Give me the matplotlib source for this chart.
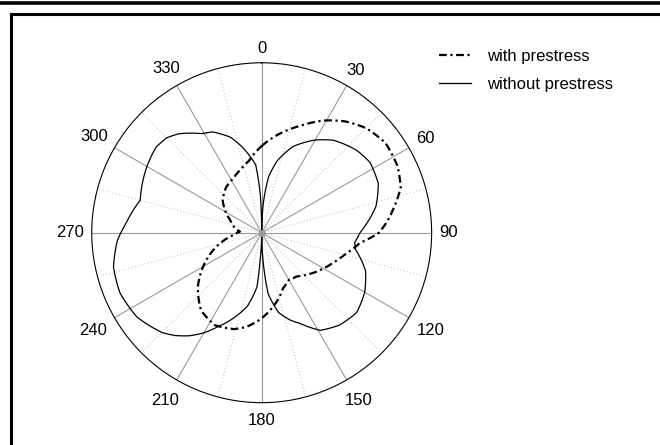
import matplotlib
matplotlib.use("Agg")
import matplotlib.pyplot as plt
from matplotlib.lines import Line2D
from matplotlib.ticker import FixedLocator
import numpy as np

plt.rcParams['font.family'] = ['Liberation Sans', 'DejaVu Sans']

# radiation pattern, angle in degrees (clockwise from top) and normalised amplitude
theta_with = [0, 10, 20, 29, 37, 45, 54, 64, 72, 80, 85, 90, 96, 104, 112, 120,
              130, 141, 150, 159, 167, 176, 181, 189, 196, 207, 218, 230, 243,
              256, 265, 273, 280, 292, 310, 322, 332, 341, 350, 360]
r_with = [0.51, 0.59, 0.67, 0.755, 0.82, 0.87, 0.90, 0.89, 0.86, 0.785, 0.74,
          0.69, 0.58, 0.51, 0.46, 0.42, 0.375, 0.33, 0.32, 0.35, 0.41, 0.475,
          0.51, 0.56, 0.59, 0.61, 0.58, 0.49, 0.37, 0.25, 0.17, 0.128, 0.16,
          0.20, 0.30, 0.34, 0.36, 0.39, 0.43, 0.51]

theta_without = [0, 3, 7, 12, 20, 30, 38, 49, 57, 67, 77, 85, 90, 96, 100, 110,
                 120, 130, 140, 149, 157, 162, 168, 174, 177, 180, 183, 185, 191,
                 200, 205, 210, 215, 220, 225, 236, 247, 257, 267, 274, 285, 300,
                 309, 315, 320, 329, 334, 342, 347, 351, 355, 358, 360]
r_without = [0, 0.17, 0.33, 0.43, 0.54, 0.63, 0.69, 0.74, 0.76, 0.745, 0.69,
             0.62, 0.578, 0.55, 0.56, 0.65, 0.70, 0.73, 0.71, 0.67, 0.58, 0.54,
             0.48, 0.36, 0.18, 0, 0.15, 0.32, 0.44, 0.55, 0.61, 0.68, 0.74, 0.79,
             0.83, 0.886, 0.906, 0.895, 0.85, 0.80, 0.74, 0.78, 0.80, 0.79, 0.76,
             0.68, 0.66, 0.59, 0.52, 0.46, 0.40, 0.22, 0]

major_angles = np.arange(0, 360, 30)
minor_angles = np.arange(15, 360, 30)

fig = plt.figure(figsize=(6.6, 4.45), dpi=100)
ax = fig.add_axes([0.139, 0.095, 0.515, 0.764], projection='polar')
ax.set_theta_zero_location('N')
ax.set_theta_direction(-1)
ax.set_ylim(0, 1)

l1, = ax.plot(np.radians(theta_with), r_with, color='black', lw=1.6,
              linestyle=(0, (3.5, 1.6, 1, 1.6)), label='with prestress', zorder=3)
l2, = ax.plot(np.radians(theta_without), r_without, color='black', lw=0.9,
              label='without prestress', zorder=3)
# follow the polar coordinates between points instead of straight chords
for ln in (l1, l2):
    ln.get_path()._interpolation_steps = 40
ax.plot(0, 0, 'o', color='#999999', ms=4, zorder=4)

ax.set_xticks(np.radians(major_angles))
ax.set_xticklabels([])
ax.xaxis.set_minor_locator(FixedLocator(np.radians(minor_angles)))
ax.grid(which='major', axis='x', color='#9a9a9a', lw=0.8, linestyle='-')
ax.grid(which='minor', axis='x', color='#c8c8c8', lw=0.8, linestyle=(0, (1, 2)))
ax.grid(False, axis='y')
ax.set_yticklabels([])
ax.tick_params(axis='x', which='both', length=0)
ax.tick_params(axis='y', length=0)
ax.spines['polar'].set_color('black')
ax.spines['polar'].set_linewidth(0.8)

# angle labels sit a fixed gap outside the ring, measured from the text box edge
radius_px = 170.0
for a in major_angles:
    s = str(a)
    t = np.radians(a)
    half_w = len(s) * 9.3 / 2
    half_h = 6 if np.cos(t) > 0 else 10
    ext = half_w * abs(np.sin(t)) + half_h * abs(np.cos(t))
    ax.text(t, (radius_px + 8 + ext) / radius_px, s, ha='center', va='center',
            fontsize=12, clip_on=False)

fig.legend(loc='upper left', bbox_to_anchor=(0.655, 0.905), frameon=False,
           fontsize=12, handlelength=1.9, handletextpad=1.0, labelspacing=0.8,
           borderaxespad=0)

# outer frame and top rule
fig.add_artist(Line2D([0, 1], [1 - 3.3 / 445, 1 - 3.3 / 445], color='black',
                      lw=2.6, transform=fig.transFigure))
fig.add_artist(Line2D([10.8 / 660, 1], [1 - 13.5 / 445, 1 - 13.5 / 445],
                      color='black', lw=2.2, transform=fig.transFigure))
fig.add_artist(Line2D([10.8 / 660, 10.8 / 660], [0, 1 - 13.5 / 445],
                      color='black', lw=2.2, transform=fig.transFigure))

fig.savefig('out.png', dpi=100)
